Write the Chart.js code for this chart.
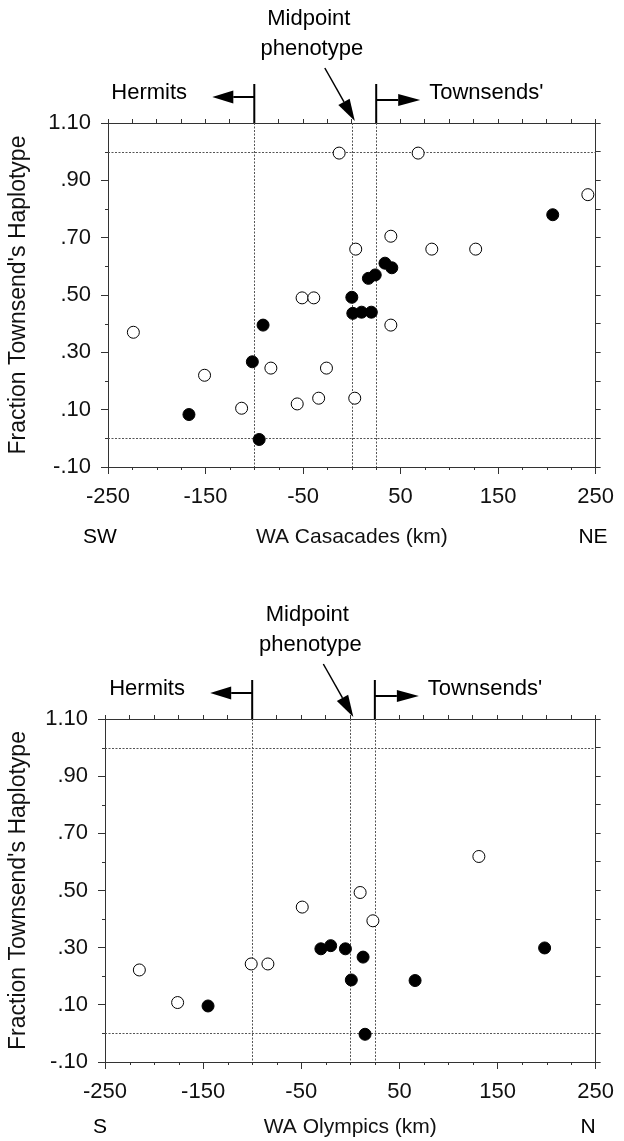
<!DOCTYPE html>
<html>
<head>
<meta charset="utf-8">
<script src="https://cdn.jsdelivr.net/npm/chart.js@4.4.1/dist/chart.umd.min.js"></script>
<style>
  html, body { margin: 0; padding: 0; background: #fff; }
  canvas { display: block; }
</style>
</head>
<body>
<canvas id="cascadesChart" width="624" height="596"></canvas>
<canvas id="olympicsChart" width="624" height="545"></canvas>
<script>
// tick labels
const xTickValues = [-250, -150, -50, 50, 150, 250];
const yTickValues = [-0.1, 0.1, 0.3, 0.5, 0.7, 0.9, 1.1];
const yTickLabels = ['-.10', '.10', '.30', '.50', '.70', '.90', '1.10'];

// zone boundaries (km) and reference fractions
const hermitsEdge = -100;
const midpoint = 0;
const townsendsEdge = 25;
const refFractions = [0, 1];

// WA Cascades transect
const cascadesOpenX = [-224, -151, -113, -83, -56, -51, -39, -34, -26, -13, 3, 4, 40, 40, 68, 82, 127, 242];
const cascadesOpenY = [0.37, 0.22, 0.105, 0.245, 0.12, 0.49, 0.49, 0.14, 0.245, 0.995, 0.14, 0.66, 0.395, 0.705, 0.995, 0.66, 0.66, 0.85];
const cascadesFilledX = [-167, -102, -95, -91, 0, 1, 10, 20, 17, 24, 34, 41, 206];
const cascadesFilledY = [0.083, 0.267, -0.004, 0.395, 0.492, 0.436, 0.44, 0.44, 0.558, 0.57, 0.611, 0.595, 0.78];

// WA Olympics transect
const olympicsOpenX = [-215, -176, -101, -84, -49, 10, 23, 131];
const olympicsOpenY = [0.222, 0.108, 0.243, 0.243, 0.442, 0.493, 0.394, 0.619];
const olympicsFilledX = [-145, -30, -20, -5, 1, 13, 15, 66, 198];
const olympicsFilledY = [0.096, 0.296, 0.307, 0.296, 0.187, 0.267, -0.003, 0.185, 0.299];

Chart.defaults.font.family = "'Liberation Sans', Arial, Helvetica, sans-serif";
Chart.defaults.color = '#111';

function arrow(ctx, x1, y1, x2, y2, headLen, headHalf) {
    const ang = Math.atan2(y2 - y1, x2 - x1);
    const bx = x2 - headLen * Math.cos(ang), by = y2 - headLen * Math.sin(ang);
    ctx.beginPath();
    ctx.moveTo(x1, y1);
    ctx.lineTo(bx, by);
    ctx.stroke();
    ctx.beginPath();
    ctx.moveTo(x2, y2);
    ctx.lineTo(bx + headHalf * Math.sin(ang), by - headHalf * Math.cos(ang));
    ctx.lineTo(bx - headHalf * Math.sin(ang), by + headHalf * Math.cos(ang));
    ctx.closePath();
    ctx.fill();
}

const annotations = {
    id: 'annotations',
    beforeDatasetsDraw(chart) {
        const {ctx, chartArea: a, scales: {x, y}} = chart;
        ctx.save();
        ctx.strokeStyle = '#555';
        ctx.lineWidth = 1;
        ctx.setLineDash([2, 1.5]);
        [hermitsEdge, midpoint, townsendsEdge].forEach(v => {
            const px = Math.round(x.getPixelForValue(v)) + 0.5;
            ctx.beginPath();
            ctx.moveTo(px, a.top);
            ctx.lineTo(px, a.bottom);
            ctx.stroke();
        });
        refFractions.forEach(v => {
            const py = Math.round(y.getPixelForValue(v)) + 0.5;
            ctx.beginPath();
            ctx.moveTo(a.left, py);
            ctx.lineTo(a.right, py);
            ctx.stroke();
        });
        ctx.restore();
    },
    afterDraw(chart) {
        const {ctx, chartArea: a, scales: {x, y}} = chart;
        const opts = chart.options.plugins.annotations;
        ctx.save();
        ctx.strokeStyle = '#333';
        ctx.fillStyle = '#000';
        ctx.lineWidth = 1;

        // minor ticks on the labelled axes
        for (let k = 0; k <= 20; k++) {
            const v = -250 + 25 * k;
            if (xTickValues.includes(v)) continue;
            const px = Math.round(x.getPixelForValue(v)) + 0.5;
            ctx.beginPath();
            ctx.moveTo(px, a.bottom);
            ctx.lineTo(px, a.bottom + 3);
            ctx.stroke();
        }
        for (let k = 0; k <= 12; k++) {
            const v = -0.1 + k / 10;
            if (yTickValues.some(t => Math.abs(t - v) < 1e-6)) continue;
            const py = Math.round(y.getPixelForValue(v)) + 0.5;
            ctx.beginPath();
            ctx.moveTo(a.left - 3, py);
            ctx.lineTo(a.left, py);
            ctx.stroke();
        }

        // Hermits / Townsends' brackets
        ctx.strokeStyle = '#000';
        ctx.lineWidth = 2;
        const hx = x.getPixelForValue(hermitsEdge);
        const tx = x.getPixelForValue(townsendsEdge);
        const mx = x.getPixelForValue(midpoint);
        ctx.beginPath();
        ctx.moveTo(hx, a.top - 39);
        ctx.lineTo(hx, a.top);
        ctx.moveTo(tx, a.top - 39);
        ctx.lineTo(tx, a.top);
        ctx.stroke();
        arrow(ctx, hx, a.top - 26, hx - 42, a.top - 26, 21, 6.5);
        arrow(ctx, tx, a.top - 23, tx + 44, a.top - 23, 22, 6);
        ctx.lineWidth = 1.5;
        arrow(ctx, mx - 27, a.top - 55, mx + 3, a.top - 2, 22, 6.5);

        ctx.font = "22px 'Liberation Sans', Arial, sans-serif";
        ctx.textBaseline = 'middle';
        ctx.textAlign = 'left';
        ctx.fillText('Hermits', hx - 143, a.top - 30);
        ctx.fillText("Townsends'", tx + 53, a.top - 30);
        ctx.textAlign = 'center';
        ctx.fillText('Midpoint', mx - 43, a.top - 104);
        ctx.fillText('phenotype', mx - 40, a.top - 74);

        // compass ends of the transect, on the axis title line
        ctx.font = "21px 'Liberation Sans', Arial, sans-serif";
        const ty = x.bottom - opts.titlePad - 21 * 1.2 / 2;
        ctx.fillText(opts.south, opts.southX, ty);
        ctx.fillText(opts.north, opts.northX, ty);
        ctx.restore();
    }
};

function makeChart(id, cfg) {
    const stepTicks = (lo, n, step) => Array.from({length: n + 1}, (_, k) => ({value: lo + step * k}));
    return new Chart(document.getElementById(id), {
        type: 'scatter',
        data: {
            datasets: [
                {
                    label: 'open',
                    data: cfg.openX.map((v, i) => ({x: v, y: cfg.openY[i]})),
                    pointRadius: 6,
                    pointBackgroundColor: '#fff',
                    pointBorderColor: '#000',
                    pointBorderWidth: 1
                },
                {
                    label: 'filled',
                    data: cfg.filledX.map((v, i) => ({x: v, y: cfg.filledY[i]})),
                    pointRadius: 6,
                    pointBackgroundColor: '#000',
                    pointBorderColor: '#000',
                    pointBorderWidth: 1
                }
            ]
        },
        options: {
            responsive: false,
            animation: false,
            events: [],
            layout: {padding: 0},
            plugins: {
                legend: {display: false},
                tooltip: {enabled: false},
                annotations: cfg.ends
            },
            scales: {
                x: {
                    type: 'linear', position: 'bottom', min: -250, max: 250,
                    afterBuildTicks: s => { s.ticks = xTickValues.map(v => ({value: v})); },
                    afterFit: s => { s.height = cfg.height - cfg.plotBottom; },
                    grid: {drawOnChartArea: false, tickLength: 7, color: '#333'},
                    border: {color: '#333', width: 1},
                    ticks: {padding: 10, font: {size: 22}, color: '#111', autoSkip: false, maxRotation: 0, callback: v => String(v)},
                    title: {display: true, text: cfg.title, font: {size: 21}, color: '#111', padding: {top: 0, bottom: cfg.ends.titlePad}}
                },
                x2: {
                    type: 'linear', position: 'top', min: -250, max: 250,
                    afterBuildTicks: s => { s.ticks = stepTicks(-250, 20, 25); },
                    afterFit: s => { s.height = cfg.plotTop; },
                    grid: {drawOnChartArea: false, tickLength: 4, color: '#333'},
                    border: {color: '#333', width: 1},
                    ticks: {display: false}
                },
                y: {
                    type: 'linear', position: 'left', min: -0.1, max: 1.1,
                    afterBuildTicks: s => { s.ticks = yTickValues.map(v => ({value: v})); },
                    afterFit: s => { s.width = cfg.plotLeft; },
                    grid: {drawOnChartArea: false, tickLength: 7, color: '#333'},
                    border: {color: '#333', width: 1},
                    ticks: {padding: 10, font: {size: 22}, color: '#111', autoSkip: false, callback: (v, i) => yTickLabels[i]},
                    title: {display: true, text: "Fraction Townsend's Haplotype", font: {size: 23}, color: '#111', padding: {top: 5, bottom: 0}}
                },
                y2: {
                    type: 'linear', position: 'right', min: -0.1, max: 1.1,
                    afterBuildTicks: s => { s.ticks = stepTicks(-0.1, 12, 0.1); },
                    afterFit: s => { s.width = 624 - cfg.plotRight; },
                    grid: {drawOnChartArea: false, tickLength: 5, color: '#333'},
                    border: {color: '#333', width: 1},
                    ticks: {display: false}
                }
            }
        },
        plugins: [annotations]
    });
}

makeChart('cascadesChart', {
    openX: cascadesOpenX, openY: cascadesOpenY,
    filledX: cascadesFilledX, filledY: cascadesFilledY,
    title: 'WA Casacades (km)',
    height: 596, plotLeft: 108, plotRight: 599, plotTop: 123, plotBottom: 467,
    ends: {south: 'SW', north: 'NE', southX: 100, northX: 593, titlePad: 46}
});

makeChart('olympicsChart', {
    openX: olympicsOpenX, openY: olympicsOpenY,
    filledX: olympicsFilledX, filledY: olympicsFilledY,
    title: 'WA Olympics (km)',
    height: 545, plotLeft: 105, plotRight: 597, plotTop: 123, plotBottom: 466,
    ends: {south: 'S', north: 'N', southX: 100, northX: 588, titlePad: 1}
});
</script>
</body>
</html>
